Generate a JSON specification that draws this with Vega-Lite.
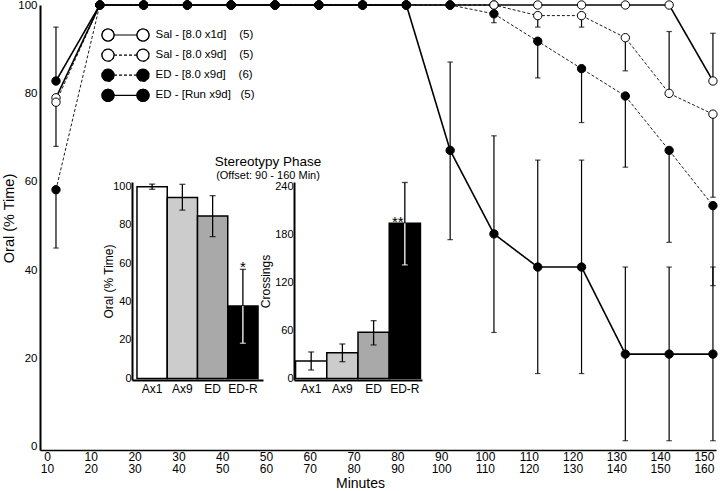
{
  "$schema": "https://vega.github.io/schema/vega-lite/v6.json",
  "autosize": {"type": "none"},
  "padding": {"left": 40, "top": 5, "right": 4, "bottom": 41},
  "width": 676,
  "height": 445,
  "config": {
    "font": "Liberation Sans",
    "view": {"stroke": null},
    "axis": {"domainColor": "black", "labelColor": "black", "titleColor": "black", "titleFontWeight": "normal", "grid": false, "ticks": false, "labelFont": "Liberation Sans", "titleFont": "Liberation Sans"},
    "title": {"font": "Liberation Sans", "fontWeight": "normal", "color": "black", "subtitleColor": "black", "subtitleFont": "Liberation Sans"},
    "legend": {"labelFont": "Liberation Sans", "labelColor": "black"}
  },
  "title": {"text": "Stereotypy Phase", "subtitle": "(Offset: 90 - 160 Min)", "frame": "group", "anchor": "middle", "dx": -110, "offset": -182, "fontSize": 13.5, "subtitleFontSize": 11, "subtitlePadding": 1},
  "datasets": {
    "oral": [
      {"series": "Sal - [8.0 x1d]\u00a0\u00a0\u00a0\u00a0(5)", "minute": 0, "value": 79},
      {"series": "Sal - [8.0 x1d]\u00a0\u00a0\u00a0\u00a0(5)", "minute": 10, "value": 100},
      {"series": "Sal - [8.0 x1d]\u00a0\u00a0\u00a0\u00a0(5)", "minute": 20, "value": 100},
      {"series": "Sal - [8.0 x1d]\u00a0\u00a0\u00a0\u00a0(5)", "minute": 30, "value": 100},
      {"series": "Sal - [8.0 x1d]\u00a0\u00a0\u00a0\u00a0(5)", "minute": 40, "value": 100},
      {"series": "Sal - [8.0 x1d]\u00a0\u00a0\u00a0\u00a0(5)", "minute": 50, "value": 100},
      {"series": "Sal - [8.0 x1d]\u00a0\u00a0\u00a0\u00a0(5)", "minute": 60, "value": 100},
      {"series": "Sal - [8.0 x1d]\u00a0\u00a0\u00a0\u00a0(5)", "minute": 70, "value": 100},
      {"series": "Sal - [8.0 x1d]\u00a0\u00a0\u00a0\u00a0(5)", "minute": 80, "value": 100},
      {"series": "Sal - [8.0 x1d]\u00a0\u00a0\u00a0\u00a0(5)", "minute": 90, "value": 100},
      {"series": "Sal - [8.0 x1d]\u00a0\u00a0\u00a0\u00a0(5)", "minute": 100, "value": 100},
      {"series": "Sal - [8.0 x1d]\u00a0\u00a0\u00a0\u00a0(5)", "minute": 110, "value": 100},
      {"series": "Sal - [8.0 x1d]\u00a0\u00a0\u00a0\u00a0(5)", "minute": 120, "value": 100},
      {"series": "Sal - [8.0 x1d]\u00a0\u00a0\u00a0\u00a0(5)", "minute": 130, "value": 100},
      {"series": "Sal - [8.0 x1d]\u00a0\u00a0\u00a0\u00a0(5)", "minute": 140, "value": 100},
      {"series": "Sal - [8.0 x1d]\u00a0\u00a0\u00a0\u00a0(5)", "minute": 150, "value": 82.8, "lo": 82.8, "hi": 93.6},
      {"series": "Sal - [8.0 x9d]\u00a0\u00a0\u00a0\u00a0(5)", "minute": 0, "value": 78, "lo": 68, "hi": 78},
      {"series": "Sal - [8.0 x9d]\u00a0\u00a0\u00a0\u00a0(5)", "minute": 10, "value": 100},
      {"series": "Sal - [8.0 x9d]\u00a0\u00a0\u00a0\u00a0(5)", "minute": 20, "value": 100},
      {"series": "Sal - [8.0 x9d]\u00a0\u00a0\u00a0\u00a0(5)", "minute": 30, "value": 100},
      {"series": "Sal - [8.0 x9d]\u00a0\u00a0\u00a0\u00a0(5)", "minute": 40, "value": 100},
      {"series": "Sal - [8.0 x9d]\u00a0\u00a0\u00a0\u00a0(5)", "minute": 50, "value": 100},
      {"series": "Sal - [8.0 x9d]\u00a0\u00a0\u00a0\u00a0(5)", "minute": 60, "value": 100},
      {"series": "Sal - [8.0 x9d]\u00a0\u00a0\u00a0\u00a0(5)", "minute": 70, "value": 100},
      {"series": "Sal - [8.0 x9d]\u00a0\u00a0\u00a0\u00a0(5)", "minute": 80, "value": 100},
      {"series": "Sal - [8.0 x9d]\u00a0\u00a0\u00a0\u00a0(5)", "minute": 90, "value": 100},
      {"series": "Sal - [8.0 x9d]\u00a0\u00a0\u00a0\u00a0(5)", "minute": 100, "value": 100},
      {"series": "Sal - [8.0 x9d]\u00a0\u00a0\u00a0\u00a0(5)", "minute": 110, "value": 97.6, "lo": 95, "hi": 97.6},
      {"series": "Sal - [8.0 x9d]\u00a0\u00a0\u00a0\u00a0(5)", "minute": 120, "value": 97.6, "lo": 95, "hi": 97.6},
      {"series": "Sal - [8.0 x9d]\u00a0\u00a0\u00a0\u00a0(5)", "minute": 130, "value": 92.6, "lo": 85.1, "hi": 92.6},
      {"series": "Sal - [8.0 x9d]\u00a0\u00a0\u00a0\u00a0(5)", "minute": 140, "value": 80, "lo": 80, "hi": 94},
      {"series": "Sal - [8.0 x9d]\u00a0\u00a0\u00a0\u00a0(5)", "minute": 150, "value": 75.3, "lo": 56.5, "hi": 75.3},
      {"series": "ED - [8.0 x9d]\u00a0\u00a0\u00a0\u00a0(6)", "minute": 0, "value": 58.2, "lo": 45, "hi": 58.2},
      {"series": "ED - [8.0 x9d]\u00a0\u00a0\u00a0\u00a0(6)", "minute": 10, "value": 100},
      {"series": "ED - [8.0 x9d]\u00a0\u00a0\u00a0\u00a0(6)", "minute": 20, "value": 100},
      {"series": "ED - [8.0 x9d]\u00a0\u00a0\u00a0\u00a0(6)", "minute": 30, "value": 100},
      {"series": "ED - [8.0 x9d]\u00a0\u00a0\u00a0\u00a0(6)", "minute": 40, "value": 100},
      {"series": "ED - [8.0 x9d]\u00a0\u00a0\u00a0\u00a0(6)", "minute": 50, "value": 100},
      {"series": "ED - [8.0 x9d]\u00a0\u00a0\u00a0\u00a0(6)", "minute": 60, "value": 100},
      {"series": "ED - [8.0 x9d]\u00a0\u00a0\u00a0\u00a0(6)", "minute": 70, "value": 100},
      {"series": "ED - [8.0 x9d]\u00a0\u00a0\u00a0\u00a0(6)", "minute": 80, "value": 100},
      {"series": "ED - [8.0 x9d]\u00a0\u00a0\u00a0\u00a0(6)", "minute": 90, "value": 100},
      {"series": "ED - [8.0 x9d]\u00a0\u00a0\u00a0\u00a0(6)", "minute": 100, "value": 98, "lo": 96, "hi": 98},
      {"series": "ED - [8.0 x9d]\u00a0\u00a0\u00a0\u00a0(6)", "minute": 110, "value": 91.8, "lo": 83.5, "hi": 91.8},
      {"series": "ED - [8.0 x9d]\u00a0\u00a0\u00a0\u00a0(6)", "minute": 120, "value": 85.6, "lo": 73.4, "hi": 85.6},
      {"series": "ED - [8.0 x9d]\u00a0\u00a0\u00a0\u00a0(6)", "minute": 130, "value": 79.4, "lo": 63.3, "hi": 79.4},
      {"series": "ED - [8.0 x9d]\u00a0\u00a0\u00a0\u00a0(6)", "minute": 140, "value": 67.1, "lo": 46.3, "hi": 67.1},
      {"series": "ED - [8.0 x9d]\u00a0\u00a0\u00a0\u00a0(6)", "minute": 150, "value": 54.6, "lo": 36.5, "hi": 54.6},
      {"series": "ED - [Run x9d]\u00a0\u00a0\u00a0(5)", "minute": 0, "value": 82.8, "lo": 82.8, "hi": 95},
      {"series": "ED - [Run x9d]\u00a0\u00a0\u00a0(5)", "minute": 10, "value": 100},
      {"series": "ED - [Run x9d]\u00a0\u00a0\u00a0(5)", "minute": 20, "value": 100},
      {"series": "ED - [Run x9d]\u00a0\u00a0\u00a0(5)", "minute": 30, "value": 100},
      {"series": "ED - [Run x9d]\u00a0\u00a0\u00a0(5)", "minute": 40, "value": 100},
      {"series": "ED - [Run x9d]\u00a0\u00a0\u00a0(5)", "minute": 50, "value": 100},
      {"series": "ED - [Run x9d]\u00a0\u00a0\u00a0(5)", "minute": 60, "value": 100},
      {"series": "ED - [Run x9d]\u00a0\u00a0\u00a0(5)", "minute": 70, "value": 100},
      {"series": "ED - [Run x9d]\u00a0\u00a0\u00a0(5)", "minute": 80, "value": 100},
      {"series": "ED - [Run x9d]\u00a0\u00a0\u00a0(5)", "minute": 90, "value": 67.1, "lo": 46.9, "hi": 87.1},
      {"series": "ED - [Run x9d]\u00a0\u00a0\u00a0(5)", "minute": 100, "value": 48.2, "lo": 25.9, "hi": 70.4},
      {"series": "ED - [Run x9d]\u00a0\u00a0\u00a0(5)", "minute": 110, "value": 40.7, "lo": 16.6, "hi": 64.9},
      {"series": "ED - [Run x9d]\u00a0\u00a0\u00a0(5)", "minute": 120, "value": 40.7, "lo": 16.6, "hi": 64.9},
      {"series": "ED - [Run x9d]\u00a0\u00a0\u00a0(5)", "minute": 130, "value": 21, "lo": 1.4, "hi": 40.7},
      {"series": "ED - [Run x9d]\u00a0\u00a0\u00a0(5)", "minute": 140, "value": 21, "lo": 1.4, "hi": 40.7},
      {"series": "ED - [Run x9d]\u00a0\u00a0\u00a0(5)", "minute": 150, "value": 21, "lo": 1.4, "hi": 40.7}
    ],
    "bars": [
      {"bar": "Ax1", "oral": 99.6, "oral_lo": 98.3, "oral_hi": 101, "cross": 21.9, "cross_lo": 10.6, "cross_hi": 33.2},
      {"bar": "Ax9", "oral": 94.1, "oral_lo": 87.5, "oral_hi": 100.9, "cross": 32.3, "cross_lo": 21, "cross_hi": 43.2},
      {"bar": "ED", "oral": 84.4, "oral_lo": 73.7, "oral_hi": 95, "cross": 57.9, "cross_lo": 42, "cross_hi": 72.4},
      {"bar": "ED-R", "oral": 37.7, "oral_lo": 18.3, "oral_hi": 56.7, "oral_sig": "*", "cross": 194.5, "cross_lo": 142.2, "cross_hi": 245.4, "cross_sig": "**"}
    ]
  },
  "resolve": {
    "scale": {"x": "independent", "y": "independent", "fill": "independent", "color": "independent"},
    "axis": {"x": "independent", "y": "independent"}
  },
  "layer": [
    {
      "data": {"name": "oral"},
      "encoding": {
        "x": {"field": "minute", "type": "quantitative", "title": "Minutes",
          "scale": {"domain": [-3.65, 150.7], "nice": false, "zero": false},
          "axis": {"orient": "bottom", "values": [0, 10, 20, 30, 40, 50, 60, 70, 80, 90, 100, 110, 120, 130, 140, 150],
            "labelExpr": "[format(datum.value, 'd'), format(datum.value + 10, 'd')]",
            "labelFontSize": 12, "labelLineHeight": 12.6, "labelPadding": 1, "labelOffset": -9,
            "labelFlush": false, "labelOverlap": false, "titleFontSize": 14, "titlePadding": 2, "titleX": 320, "domainWidth": 1.5}}
      },
      "layer": [
        {"mark": {"type": "rule", "color": "black", "strokeWidth": 1.2},
          "encoding": {
            "y": {"field": "lo", "type": "quantitative", "title": "Oral (% Time)",
              "scale": {"domain": [-0.7, 100], "nice": false, "zero": false},
              "axis": {"orient": "left", "values": [0, 20, 40, 60, 80, 100], "labelFontSize": 11.5, "labelPadding": 3, "titleFontSize": 14.5, "titlePadding": 1, "titleY": 213, "domainWidth": 2}},
            "y2": {"field": "hi"}
          }},
        {"mark": {"type": "tick", "orient": "horizontal", "size": 5.5, "thickness": 1.2, "color": "black"},
          "encoding": {"y": {"field": "lo", "type": "quantitative", "title": "Oral (% Time)"}}},
        {"mark": {"type": "tick", "orient": "horizontal", "size": 5.5, "thickness": 1.2, "color": "black"},
          "encoding": {"y": {"field": "hi", "type": "quantitative", "title": "Oral (% Time)"}}},
        {"mark": {"type": "line", "color": "black"},
          "encoding": {
            "y": {"field": "value", "type": "quantitative", "title": "Oral (% Time)"},
            "strokeDash": {"field": "series", "type": "nominal",
              "scale": {"domain": ["Sal - [8.0 x1d]\u00a0\u00a0\u00a0\u00a0(5)", "Sal - [8.0 x9d]\u00a0\u00a0\u00a0\u00a0(5)", "ED - [8.0 x9d]\u00a0\u00a0\u00a0\u00a0(6)", "ED - [Run x9d]\u00a0\u00a0\u00a0(5)"],
                "range": [[1, 0], [3, 2], [3, 2], [1, 0]]},
              "legend": {"orient": "none", "legendX": 61.5, "legendY": 22, "title": null, "padding": 0,
                "symbolType": "M-1.643,0L1.643,0M-3.357,0A0.857,0.857,0,1,1,-1.643,0A0.857,0.857,0,1,1,-3.357,0ZM1.643,0A0.857,0.857,0,1,1,3.357,0A0.857,0.857,0,1,1,1.643,0Z",
                "symbolSize": 196, "symbolStrokeColor": "black", "symbolStrokeWidth": 1.2, "symbolFillColor": "transparent",
                "symbolOffset": 16, "labelOffset": 22, "rowPadding": 2.1, "labelFontSize": 11.5, "labelExpr": "''"}},
            "strokeWidth": {"condition": {"test": "indexof('' + datum.series, '8.0 x9d') >= 0", "value": 0.9}, "value": 1.6}
          }},
        {"mark": {"type": "point", "filled": true, "shape": "circle", "size": 70, "stroke": "black", "strokeWidth": 1, "opacity": 1},
          "encoding": {
            "y": {"field": "value", "type": "quantitative", "title": "Oral (% Time)"},
            "fill": {"field": "series", "type": "nominal",
              "sort": ["Sal - [8.0 x1d]\u00a0\u00a0\u00a0\u00a0(5)", "Sal - [8.0 x9d]\u00a0\u00a0\u00a0\u00a0(5)", "ED - [8.0 x9d]\u00a0\u00a0\u00a0\u00a0(6)", "ED - [Run x9d]\u00a0\u00a0\u00a0(5)"],
              "scale": {"range": ["white", "white", "black", "black"]},
              "legend": {"orient": "none", "legendX": 61.5, "legendY": 22, "title": null, "padding": 0,
                "symbolType": "M-3.357,0A0.857,0.857,0,1,1,-1.643,0A0.857,0.857,0,1,1,-3.357,0ZM1.643,0A0.857,0.857,0,1,1,3.357,0A0.857,0.857,0,1,1,1.643,0Z",
                "symbolSize": 196, "symbolStrokeColor": "black", "symbolStrokeWidth": 1.2,
                "symbolOffset": 16, "labelOffset": 22, "rowPadding": 2.1, "labelFontSize": 11.5, "labelLimit": 300}}
          }}
      ]
    },
    {
      "data": {"name": "bars"},
      "encoding": {
        "x": {"field": "bar", "type": "nominal", "sort": ["Ax1", "Ax9", "ED", "ED-R"], "scale": {"range": [92, 223], "paddingInner": 0, "paddingOuter": 0.165},
          "axis": {"orient": "bottom", "ticks": false, "title": null, "labelAngle": 0, "labelFontSize": 12, "labelPadding": 3, "domainWidth": 2, "offset": -70}}
      },
      "layer": [
        {"mark": {"type": "bar", "stroke": "black", "strokeWidth": 1.5},
          "encoding": {
            "y": {"field": "oral", "type": "quantitative", "title": "Oral (% Time)",
              "scale": {"domain": [-0.8, 102.1], "range": [375, 177], "nice": false, "zero": false},
              "axis": {"orient": "left", "values": [0, 20, 40, 60, 80, 100], "labelFontSize": 11, "labelPadding": 1, "titleFontSize": 12, "titlePadding": -3, "domainWidth": 2, "offset": -92}},
            "y2": {"datum": 0},
            "fill": {"field": "bar", "type": "nominal", "scale": {"domain": ["Ax1", "Ax9", "ED", "ED-R"], "range": ["white", "#cccccc", "#a9a9a9", "black"]}, "legend": null}
          }},
        {"mark": {"type": "rule", "color": "black", "strokeWidth": 1.3},
          "encoding": {"y": {"field": "oral", "type": "quantitative", "title": "Oral (% Time)"}, "y2": {"field": "oral_hi"}}},
        {"mark": {"type": "rule", "strokeWidth": 1.3},
          "encoding": {"y": {"field": "oral_lo", "type": "quantitative", "title": "Oral (% Time)"}, "y2": {"field": "oral"},
            "color": {"field": "bar", "type": "nominal", "scale": {"domain": ["Ax1", "Ax9", "ED", "ED-R"], "range": ["black", "black", "black", "white"]}, "legend": null}}},
        {"mark": {"type": "tick", "orient": "horizontal", "size": 6, "thickness": 1.3, "color": "black"},
          "encoding": {"y": {"field": "oral_hi", "type": "quantitative", "title": "Oral (% Time)"}}},
        {"mark": {"type": "tick", "orient": "horizontal", "size": 6, "thickness": 1.3},
          "encoding": {"y": {"field": "oral_lo", "type": "quantitative", "title": "Oral (% Time)"},
            "color": {"field": "bar", "type": "nominal", "scale": {"domain": ["Ax1", "Ax9", "ED", "ED-R"], "range": ["black", "black", "black", "white"]}, "legend": null}}},
        {"transform": [{"filter": "isValid(datum.oral_sig)"}],
          "mark": {"type": "text", "fontSize": 15, "baseline": "alphabetic", "dy": 3, "color": "black"},
          "encoding": {"y": {"field": "oral_hi", "type": "quantitative", "title": "Oral (% Time)"}, "text": {"field": "oral_sig", "type": "nominal"}}}
      ]
    },
    {
      "data": {"name": "bars"},
      "encoding": {
        "x": {"field": "bar", "type": "nominal", "sort": ["Ax1", "Ax9", "ED", "ED-R"], "scale": {"range": [254, 382], "paddingInner": 0, "paddingOuter": 0.05},
          "axis": {"orient": "bottom", "ticks": false, "title": null, "labelAngle": 0, "labelFontSize": 12, "labelPadding": 3, "domainWidth": 2, "offset": -70}}
      },
      "layer": [
        {"mark": {"type": "bar", "stroke": "black", "strokeWidth": 1.5},
          "encoding": {
            "y": {"field": "cross", "type": "quantitative", "title": "Crossings",
              "scale": {"domain": [-1.9, 246], "range": [375, 177], "nice": false, "zero": false},
              "axis": {"orient": "left", "values": [0, 60, 120, 180, 240], "labelFontSize": 11, "labelPadding": 1, "titleFontSize": 12, "titlePadding": 2, "domainWidth": 2, "offset": -254}},
            "y2": {"datum": 0},
            "fill": {"field": "bar", "type": "nominal", "scale": {"domain": ["Ax1", "Ax9", "ED", "ED-R"], "range": ["white", "#cccccc", "#a9a9a9", "black"]}, "legend": null}
          }},
        {"mark": {"type": "rule", "color": "black", "strokeWidth": 1.3},
          "encoding": {"y": {"field": "cross", "type": "quantitative", "title": "Crossings"}, "y2": {"field": "cross_hi"}}},
        {"mark": {"type": "rule", "strokeWidth": 1.3},
          "encoding": {"y": {"field": "cross_lo", "type": "quantitative", "title": "Crossings"}, "y2": {"field": "cross"},
            "color": {"field": "bar", "type": "nominal", "scale": {"domain": ["Ax1", "Ax9", "ED", "ED-R"], "range": ["black", "black", "black", "white"]}, "legend": null}}},
        {"mark": {"type": "tick", "orient": "horizontal", "size": 6, "thickness": 1.3, "color": "black"},
          "encoding": {"y": {"field": "cross_hi", "type": "quantitative", "title": "Crossings"}}},
        {"mark": {"type": "tick", "orient": "horizontal", "size": 6, "thickness": 1.3},
          "encoding": {"y": {"field": "cross_lo", "type": "quantitative", "title": "Crossings"},
            "color": {"field": "bar", "type": "nominal", "scale": {"domain": ["Ax1", "Ax9", "ED", "ED-R"], "range": ["black", "black", "black", "white"]}, "legend": null}}},
        {"transform": [{"filter": "isValid(datum.cross_sig)"}],
          "mark": {"type": "text", "fontSize": 15, "baseline": "alphabetic", "dy": 4, "dx": -7, "color": "black"},
          "encoding": {"y": {"field": "cross", "type": "quantitative", "title": "Crossings"}, "text": {"field": "cross_sig", "type": "nominal"}}}
      ]
    }
  ]
}
